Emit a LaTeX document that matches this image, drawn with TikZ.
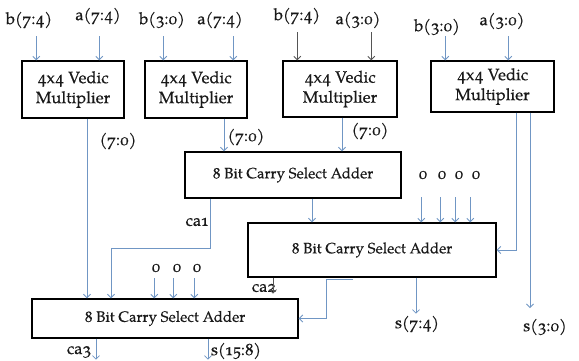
\documentclass[tikz,border=0pt]{standalone}
\usetikzlibrary{arrows.meta}
\suppressfontnotfounderror=1
\newif\ifpag
\font\fmult="[texgyrepagella-regular.otf]:+onum;embolden=0.4" at 16.5pt
\ifx\fmult\nullfont
  \pagfalse
  \DeclareFontShape{OML}{cmm}{m}{it}{<-> cmmi12}{}
  \font\fmult="[lmroman12-regular.otf]:embolden=0.6" at 17pt
  \font\fcsa="[lmroman12-regular.otf]:embolden=0.6" at 15pt
  \font\flbl="[lmroman12-regular.otf]:embolden=0.6" at 16pt
\else
  \pagtrue
  \font\fcsa="[texgyrepagella-regular.otf]:+onum;embolden=0.4" at 15pt
  \font\flbl="[texgyrepagella-regular.otf]:+onum;embolden=0.4" at 16.5pt
\fi
\ifpag \newcommand\osn[1]{#1}\else \newcommand\osn[1]{\oldstylenums{#1}}\fi
\definecolor{arrblue}{RGB}{112,150,196}
\definecolor{arrgrey}{RGB}{85,85,85}
\definecolor{txtc}{RGB}{25,25,25}
\begin{document}
\begin{tikzpicture}[x=1pt,y=-1pt,
  box/.style={draw=black, line width=1.4pt, fill=white, inner sep=0pt, align=center,
              font={\fontsize{15}{19}\selectfont\fcsa}, text=txtc},
  mult/.style={box, font={\fontsize{16.5}{20}\selectfont\fmult}},
  lbl/.style={inner sep=0pt, font={\fontsize{16}{18}\selectfont\flbl}, text=txtc},
  arr/.style={draw=arrblue, line width=0.8pt, -{Straight Barb[length=3.5pt,width=7pt]}},
  garr/.style={arr, draw=arrgrey}]
\useasboundingbox (0,0) rectangle (579,360);
\fill[white] (0,0) rectangle (579,360);

% multipliers
\node[mult, minimum width=102pt, minimum height=57pt] (m1) at (73,89.5) {\osn{4}x\osn{4} Vedic\\Multiplier};
\node[mult, minimum width=102pt, minimum height=57pt] (m2) at (196,89.5) {\osn{4}x\osn{4} Vedic\\Multiplier};
\node[mult, minimum width=114pt, minimum height=56pt] (m3) at (340,89) {\osn{4}x\osn{4} Vedic\\Multiplier};
\node[mult, minimum width=123pt, minimum height=51pt] (m4) at (492.5,86.5) {\osn{4}x\osn{4} Vedic\\Multiplier};

% adders
\node[box, minimum width=216pt, minimum height=46pt] (c1) at (293,175) {\osn{8} Bit Carry Select Adder};
\node[box, minimum width=248pt, minimum height=54pt] (c2) at (372,250) {\osn{8} Bit Carry Select Adder};
\node[box, minimum width=266pt, minimum height=39pt] (c3) at (165,318.5) {\osn{8} Bit Carry Select Adder};

% input labels
\node[lbl] (b1) at (29,20) {b(\osn{7}:\osn{4})};
\node[lbl] (a1) at (98,16) {a(\osn{7}:\osn{4})};
\node[lbl] (b2) at (162,20) {b(\osn{3}:\osn{0})};
\node[lbl] (a2) at (220,20) {a(\osn{7}:\osn{4})};
\node[lbl] (b3) at (297,16) {b(\osn{7}:\osn{4})};
\node[lbl] (a3) at (358,20) {a(\osn{3}:\osn{0})};
\node[lbl] (b4) at (437,27) {b(\osn{3}:\osn{0})};
\node[lbl] (a4) at (502,21) {a(\osn{3}:\osn{0})};

% input arrows
\draw[arr] ([xshift=15pt,yshift=24pt]m1.north west) -- ([xshift=15pt]m1.north west);
\draw[arr] ([xshift=78pt,yshift=24pt]m1.north west) -- ([xshift=78pt]m1.north west);
\draw[arr] ([xshift=19pt,yshift=24pt]m2.north west) -- ([xshift=19pt]m2.north west);
\draw[arr] ([xshift=89pt,yshift=24pt]m2.north west) -- ([xshift=89pt]m2.north west);
\draw[garr] ([xshift=15pt,yshift=28pt]m3.north west) -- ([xshift=15pt]m3.north west);
\draw[garr] ([xshift=89pt,yshift=28pt]m3.north west) -- ([xshift=89pt]m3.north west);
\draw[arr] ([xshift=15pt,yshift=24pt]m4.north west) -- ([xshift=15pt]m4.north west);
\draw[arr] ([xshift=78pt,yshift=24pt]m4.north west) -- ([xshift=78pt]m4.north west);

% multiplier outputs
\node[lbl] (o1) at (118,141) {(\osn{7}:\osn{0})};
\node[lbl] (o2) at (246,137) {(\osn{7}:\osn{0})};
\node[lbl] (o3) at (370,131) {(\osn{7}:\osn{0})};
\draw[arr] ([xshift=14pt]m1.south) -- ([xshift=14pt]m1.south |- c3.north);
\draw[arr] ([xshift=28pt]m2.south) -- ([xshift=28pt]m2.south |- c1.north);
\draw[arr] ([xshift=2pt]m3.south) -- ([xshift=2pt]m3.south |- c1.north);
\draw[arr] ([xshift=23.5pt]m4.south) |- (c2.east);
\coordinate (e30) at (530,308);
\draw[arr] ([xshift=37.5pt]m4.south) -- (e30);
\node[lbl] (s30) at (545,327) {s(\osn{3}:\osn{0})};

% adder 1 outputs
\draw[arr] ([xshift=19pt]c1.south) -- ([xshift=19pt]c1.south |- c2.north);
\node[lbl] (ca1) at (197,222) {ca\osn{1}};
\draw[arr] ([xshift=-83pt]c1.south) -- ++(0,50) -| ([xshift=-54pt]c3.north);

% zeros into adder 2
\node[lbl] (z1) at (423,175) {\osn{0}};
\node[lbl] (z2) at (442,175) {\osn{0}};
\node[lbl] (z3) at (459,175) {\osn{0}};
\node[lbl] (z4) at (476,175) {\osn{0}};
\draw[arr] ([xshift=174pt,yshift=25pt]c2.north west) -- ([xshift=174pt]c2.north west);
\draw[arr] ([xshift=193pt,yshift=25pt]c2.north west) -- ([xshift=193pt]c2.north west);
\draw[arr] ([xshift=208pt,yshift=25pt]c2.north west) -- ([xshift=208pt]c2.north west);
\draw[arr] ([xshift=223pt,yshift=25pt]c2.north west) -- ([xshift=223pt]c2.north west);

% adder 2 outputs
\draw[arr] ([xshift=44pt]c2.south) -- ++(0,36);
\node[lbl] (s74) at (417,324) {s(\osn{7}:\osn{4})};
\draw[arr] ([xshift=-19pt,yshift=-1.5pt]c2.south) -- ([xshift=-46pt,yshift=-1.5pt]c2.south) |- (c3.east);
\node[lbl] (ca2) at (264,288) {ca\osn{2}};
\draw[garr] ([xshift=-99pt]c2.south) -- ++(0,16);

% zeros into adder 3
\node[lbl] (y1) at (156,268) {\osn{0}};
\node[lbl] (y2) at (177,268) {\osn{0}};
\node[lbl] (y3) at (197,268) {\osn{0}};
\draw[arr] ([xshift=123pt,yshift=20pt]c3.north west) -- ([xshift=123pt]c3.north west);
\draw[arr] ([xshift=142pt,yshift=20pt]c3.north west) -- ([xshift=142pt]c3.north west);
\draw[arr] ([xshift=163pt,yshift=20pt]c3.north west) -- ([xshift=163pt]c3.north west);

% adder 3 outputs
\draw[arr] ([xshift=-69pt]c3.south) -- ++(0,21);
\node[lbl] (ca3) at (79,352) {ca\osn{3}};
\draw[arr] ([xshift=43pt]c3.south) -- ++(0,21);
\node[lbl] (s158) at (236,351) {s(\osn{15}:\osn{8})};
\end{tikzpicture}
\end{document}
